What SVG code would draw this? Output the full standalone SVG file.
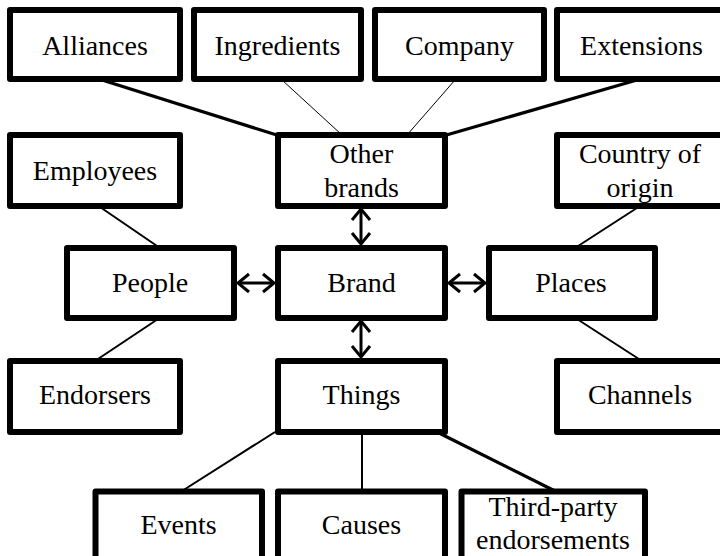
<svg xmlns="http://www.w3.org/2000/svg" width="720" height="556" viewBox="0 0 720 556">
  <style>
    .box rect { fill: #fff; stroke: #000; stroke-width: 6; stroke-linejoin: round; }
    .box text { font-family: 'Liberation Serif', 'Times New Roman', serif; font-size: 28px; fill: #000; text-anchor: middle; }
    .link { stroke: #000; fill: none; stroke-linecap: butt; }
    .thin { stroke-width: 1; }
    .mid { stroke-width: 2; }
    .thick { stroke-width: 3.2; }
    .arrow { stroke: #000; stroke-width: 3; fill: none; marker-start: url(#chev); marker-end: url(#chev); }
  </style>
  <defs>
    <!-- open chevron head used at both ends of the two-way links -->
    <marker id="chev" markerUnits="userSpaceOnUse" viewBox="0 0 12 18" refX="11" refY="9" markerWidth="12" markerHeight="18" orient="auto-start-reverse" overflow="visible">
      <path d="M0,0 L11,9 L0,18" fill="none" stroke="#000" stroke-width="3"/>
    </marker>
  </defs>

  <rect width="720" height="556" fill="#fff"/>

  <!-- connectors -->
  <g id="connectors">
    <line class="link thick" x1="102" y1="80" x2="280" y2="136"/>
    <line class="link thin" x1="282" y1="80" x2="342" y2="135"/>
    <line class="link thin" x1="455" y1="80" x2="407" y2="135"/>
    <line class="link thick" x1="637" y1="80" x2="443" y2="136"/>
    <line class="link mid" x1="100" y1="207" x2="160" y2="248"/>
    <line class="link mid" x1="158" y1="319" x2="95" y2="361"/>
    <line class="link mid" x1="575" y1="248" x2="640" y2="206"/>
    <line class="link mid" x1="577" y1="319" x2="642" y2="361"/>
    <line class="link mid" x1="275" y1="432" x2="182" y2="491"/>
    <line class="link mid" x1="362" y1="432" x2="362" y2="491"/>
    <line class="link thick" x1="437" y1="432" x2="555" y2="491"/>
    <!-- two-way links around the brand -->
    <line class="arrow" x1="361" y1="209" x2="361" y2="244"/>
    <line class="arrow" x1="361" y1="321" x2="361" y2="357"/>
    <line class="arrow" x1="238" y1="283" x2="274" y2="283"/>
    <line class="arrow" x1="449" y1="283" x2="485" y2="283"/>
  </g>

  <!-- top row -->
  <g id="alliances" class="box">
    <rect x="10" y="10" width="170" height="69"/>
    <text x="95" y="55">Alliances</text>
  </g>
  <g id="ingredients" class="box">
    <rect x="194" y="10" width="167" height="69"/>
    <text x="277.5" y="55">Ingredients</text>
  </g>
  <g id="company" class="box">
    <rect x="375" y="10" width="169" height="69"/>
    <text x="459.5" y="55">Company</text>
  </g>
  <g id="extensions" class="box">
    <rect x="557" y="10" width="168" height="69"/>
    <text x="641.5" y="55">Extensions</text>
  </g>

  <!-- second row -->
  <g id="employees" class="box">
    <rect x="10" y="135" width="170" height="71"/>
    <text x="95" y="180">Employees</text>
  </g>
  <g id="other-brands" class="box">
    <rect x="278" y="135" width="167" height="71"/>
    <text x="361.5" y="163">Other</text>
    <text x="361.5" y="197">brands</text>
  </g>
  <g id="country" class="box">
    <rect x="557" y="135" width="168" height="71"/>
    <text x="640" y="163">Country of</text>
    <text x="640" y="197">origin</text>
  </g>

  <!-- middle row -->
  <g id="people" class="box">
    <rect x="67" y="248" width="167" height="70"/>
    <text x="150" y="292">People</text>
  </g>
  <g id="brand" class="box">
    <rect x="278" y="248" width="167" height="70"/>
    <text x="361.5" y="292">Brand</text>
  </g>
  <g id="places" class="box">
    <rect x="489" y="248" width="166" height="70"/>
    <text x="571" y="292">Places</text>
  </g>

  <!-- fourth row -->
  <g id="endorsers" class="box">
    <rect x="10" y="361" width="170" height="71"/>
    <text x="95" y="404">Endorsers</text>
  </g>
  <g id="things" class="box">
    <rect x="278" y="361" width="167" height="71"/>
    <text x="361.5" y="404">Things</text>
  </g>
  <g id="channels" class="box">
    <rect x="557" y="361" width="168" height="71"/>
    <text x="640" y="404">Channels</text>
  </g>

  <!-- bottom row -->
  <g id="events" class="box">
    <rect x="95.5" y="491.5" width="166.5" height="75"/>
    <text x="178.5" y="534">Events</text>
  </g>
  <g id="causes" class="box">
    <rect x="278" y="491.5" width="167" height="75"/>
    <text x="361.5" y="534">Causes</text>
  </g>
  <g id="third-party" class="box">
    <rect x="461.5" y="491.5" width="183.5" height="75"/>
    <text x="553" y="516">Third-party</text>
    <text x="553" y="549">endorsements</text>
  </g>
</svg>
